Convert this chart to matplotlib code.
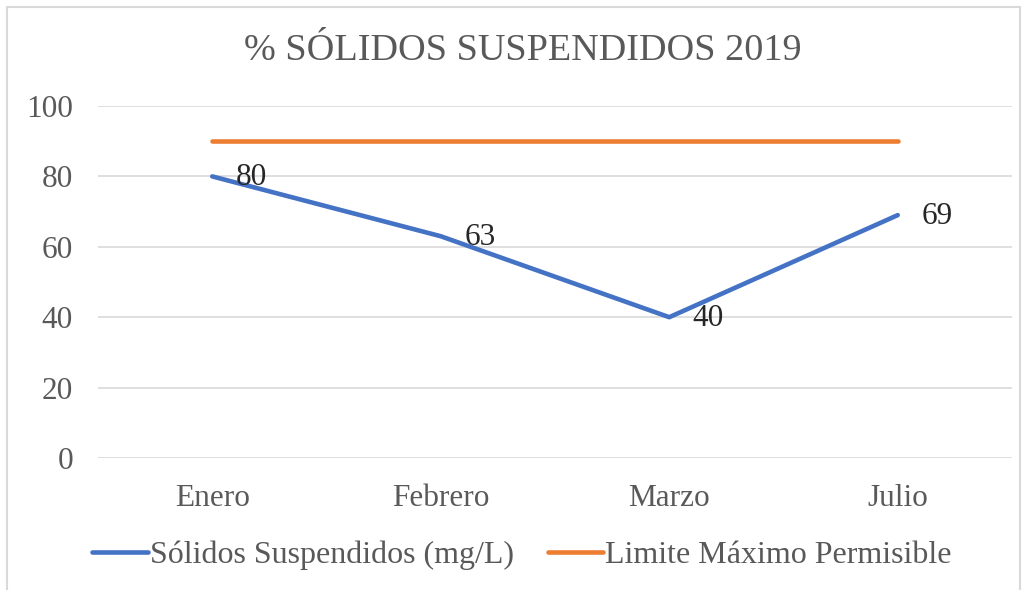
import matplotlib.pyplot as plt
from matplotlib.patches import Rectangle

months = ['Enero', 'Febrero', 'Marzo', 'Julio']
solidos = [80, 63, 40, 69]
limite = [90, 90, 90, 90]
yticks = [0, 20, 40, 60, 80, 100]

plt.rcParams['font.family'] = ['Liberation Serif', 'DejaVu Serif']
gray = '#595959'

fig = plt.figure(figsize=(10.27, 5.90), dpi=100)
W, H = 1027, 590
ax = fig.add_axes([98 / W, 1 - 458 / H, 914 / W, 352 / H])

x = list(range(len(months)))
ax.plot(x, solidos, color='#4472C4', lw=3.3, solid_capstyle='round',
        label='Sólidos Suspendidos (mg/L)', zorder=3)
ax.plot(x, limite, color='#ED7D31', lw=3.3, solid_capstyle='round',
        label='Limite Máximo Permisible', zorder=3)

for xi, v in zip(x, solidos):
    ax.annotate(str(v), (xi, v), xytext=(17, -1), textcoords='offset points',
                ha='left', va='center', fontsize=22.5, color='#262626', zorder=4)

ax.set_xlim(-0.5, 3.5)
ax.set_ylim(0, 100)
ax.set_yticks(yticks)
ax.set_xticks(x)
ax.set_xticklabels(months)
ax.tick_params(axis='both', length=0, labelsize=22.5, labelcolor=gray)
ax.tick_params(axis='x', pad=19)
ax.tick_params(axis='y', pad=18)
ax.grid(axis='y', color='#D9D9D9', lw=1.2)
ax.set_axisbelow(True)
for s in ax.spines.values():
    s.set_visible(False)

fig.text(523 / W, 1 - 51 / H, '% SÓLIDOS SUSPENDIDOS 2019', ha='center',
         va='center', fontsize=27.5, color=gray)

fig.legend(loc='center', bbox_to_anchor=(522 / W, 1 - 555 / H), ncol=2,
           frameon=False, fontsize=23, labelcolor=gray, handlelength=1.75,
           handletextpad=0.05, columnspacing=1.05)

fig.patches.append(Rectangle((7 / W, -0.05), 1013 / W, 1 - 7 / H + 0.05,
                             transform=fig.transFigure, fill=False,
                             edgecolor='#D9D9D9', lw=1.5))

fig.savefig('out.png', dpi=100)
